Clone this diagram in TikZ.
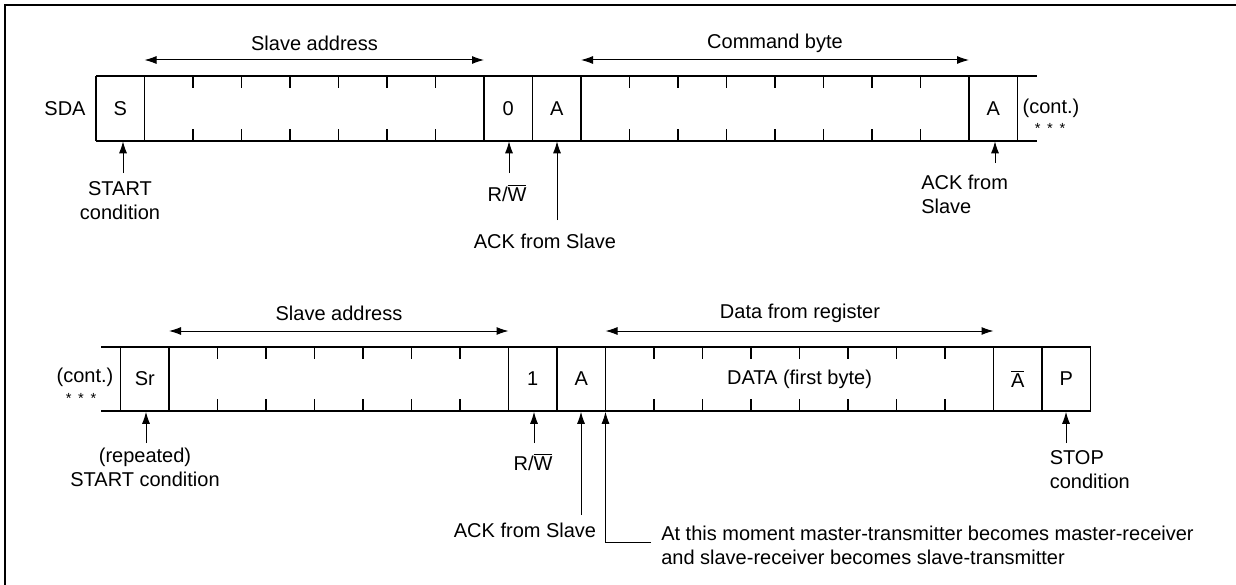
\documentclass[tikz,border=0pt]{standalone}
\usepackage{fontspec}
\setmainfont{Liberation Sans}
\usetikzlibrary{arrows.meta,positioning}

\begin{document}
\begin{tikzpicture}[x=0.75pt,y=-0.75pt,
  frame/.style={line width=1.6pt},
  bus/.style={line width=1.1pt},
  bit/.style={line width=0.8pt},
  arr/.style={-{Latex[length=9pt,width=6pt]},line width=0.75pt},
  span/.style={{Latex[length=9pt,width=6pt]}-{Latex[length=9pt,width=6pt]},line width=0.75pt},
  lbl/.style={font=\fontsize{15}{18}\selectfont,inner sep=0pt,align=center},
  note/.style={lbl,align=left,anchor=west},
  cell/.style={lbl,minimum width=36.4pt,minimum height=48.75pt},
  stars/.style={font=\fontsize{11}{12}\selectfont,inner sep=0pt}
]
\useasboundingbox (0,0) rectangle (1236,585);
\draw[frame] (5,585) -- (5,5) -- (1236,5);

% Write phase: address with R/W = 0, then command byte.
\draw[bus] (96,76) -- (1037,76);
\draw[bus] (96,141) -- (1037,141);
\foreach \x in {96,144.5,484,532.5,581,969,1017.5}
  \draw[bus] (\x,76) -- (\x,141);
\foreach \n in {2,3,4,5,6,7,11,12,13,14,15,16,17} {
  \draw[bit] (96+48.5*\n,76) -- ++(0,12);
  \draw[bit] (96+48.5*\n,141) -- ++(0,-12);
}
\node[lbl] (sda) at (65,108.5) {SDA};
\node[cell] (s) at (120.25,108.5) {S};
\node[cell] (rw0) at (508.25,108.5) {0};
\node[cell] (ack1) at (556.75,108.5) {A};
\node[cell] (ack2) at (993.25,108.5) {A};
\node[lbl] (cont1) at (1051,108) {(cont.)};
\node[stars] (dots1) at (1050,128) {*\hspace{5pt}*\hspace{5pt}*};

\node[lbl] (addr1) at (314.5,43) {Slave address};
\node[lbl] (cmd) at (775,43) {Command byte};
\coordinate (a1l) at (144.5,60); \coordinate (a1r) at (484,60);
\coordinate (c1l) at (581,60); \coordinate (c1r) at (969,60);
\draw[span] (a1l) -- (a1r);
\draw[span] (c1l) -- (c1r);

\node[lbl] (start) at (120,201) {START\\condition};
\node[lbl] (rwlbl1) at (507,193) {R/$\overline{\hbox{W}}$};
\node[lbl] (acklbl1) at (545,241) {ACK from Slave};
\node[note] (acklbl2) at (921,194) {ACK from\\Slave};
\coordinate (t1) at (123,173);
\coordinate (t2) at (509,173);
\coordinate (t3) at (557,220);
\coordinate (t4) at (995,163);
\draw[arr] (t1) -- (t1 |- s.south);
\draw[arr] (t2) -- (t2 |- rw0.south);
\draw[arr] (t3) -- (t3 |- ack1.south);
\draw[arr] (t4) -- (t4 |- ack2.south);

% Read phase: repeated start, address with R/W = 1, data byte.
\draw[bus] (101,347) -- (1090.5,347);
\draw[bus] (101,411) -- (1090.5,411);
\foreach \x in {120.5,169,508.5,557,605.5,993.5,1042,1090.5}
  \draw[bus] (\x,347) -- (\x,411);
\foreach \n in {2,3,4,5,6,7,11,12,13,14,15,16,17} {
  \draw[bit] (120.5+48.5*\n,347) -- ++(0,12);
  \draw[bit] (120.5+48.5*\n,411) -- ++(0,-12);
}
\node[lbl] (cont2) at (85,377) {(cont.)};
\node[stars] (dots2) at (81,398) {*\hspace{5pt}*\hspace{5pt}*};
\node[cell] (sr) at (144.75,379) {Sr};
\node[cell] (rw1) at (532.75,379) {1};
\node[cell] (ack3) at (581.25,379) {A};
\node[lbl] (data) at (799.5,379) {DATA (first byte)};
\node[cell] (nack) at (1017.75,379) {$\overline{\hbox{A}}$};
\node[cell] (p) at (1066.25,379) {P};

\node[lbl] (addr2) at (339,313) {Slave address};
\node[lbl] (reg) at (800,313) {Data from register};
\coordinate (a2l) at (169,331); \coordinate (a2r) at (508.5,331);
\coordinate (d2l) at (605.5,331); \coordinate (d2r) at (993.5,331);
\draw[span] (a2l) -- (a2r);
\draw[span] (d2l) -- (d2r);

\node[lbl] (rstart) at (145,467) {(repeated)\\START condition};
\node[lbl] (rwlbl2) at (533,462) {R/$\overline{\hbox{W}}$};
\node[lbl] (acklbl3) at (525,530) {ACK from Slave};
\node[note] (stop) at (1049.5,469.5) {STOP\\condition};
\node[note] (turn) at (661,545.5)
  {At this moment master-transmitter becomes master-receiver\\
   and slave-receiver becomes slave-transmitter};
\coordinate (u1) at (146,443);
\coordinate (u2) at (534,443);
\coordinate (u3) at (581,515);
\coordinate (u4) at (605.5,542);
\coordinate (u5) at (1066,443);
\coordinate (u6) at (651,542);
\draw[arr] (u1) -- (u1 |- sr.south);
\draw[arr] (u2) -- (u2 |- rw1.south);
\draw[arr] (u3) -- (u3 |- ack3.south);
\draw[arr] (u6) -- (u4) -- (u4 |- ack3.south);
\draw[arr] (u5) -- (u5 |- p.south);
\end{tikzpicture}
\end{document}
